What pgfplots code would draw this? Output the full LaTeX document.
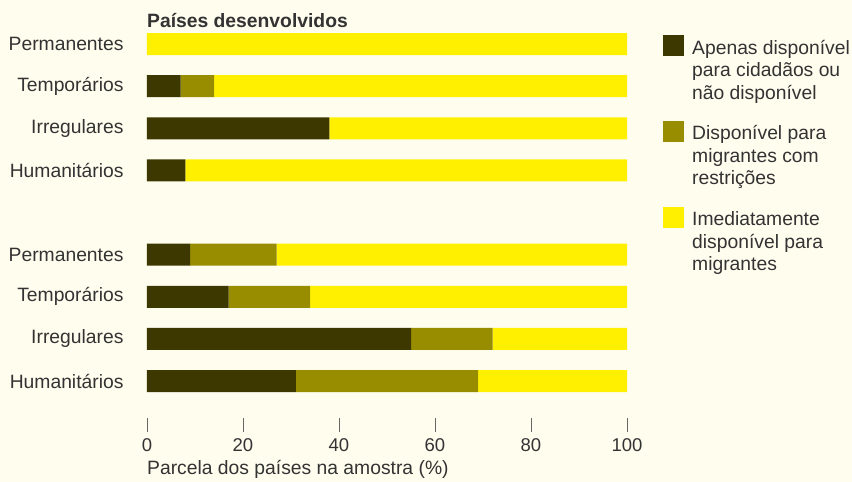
\documentclass[border=0pt]{standalone}
\usepackage{pgfplots}
\pgfplotsset{compat=1.18}
\usepackage{pgfplotstable}
\usepackage{fontspec}
\setmainfont{Liberation Sans}
\definecolor{bgcol}{HTML}{FFFDEE}
\definecolor{cdark}{HTML}{3D3800}
\definecolor{colive}{HTML}{988D00}
\definecolor{cyel}{HTML}{FFF000}
\definecolor{txt}{HTML}{333333}
\definecolor{tickc}{HTML}{666666}
\newcommand{\fs}{\fontsize{18.5bp}{22.5bp}\selectfont}
\newcommand{\fl}{\fontsize{19.3bp}{22.5bp}\selectfont}

% pos: 8..5 = Países desenvolvidos, 3..0 = second group
\pgfplotstableread{
pos a  b  c
8   0  0  100
7   7  7  86
6   38 0  62
5   8  0  92
3   9  18 73
2   17 17 66
1   55 17 28
0   31 38 31
}\data

\begin{document}
\begin{tikzpicture}
\path[use as bounding box, fill=bgcol] (-147bp,-64bp) rectangle ++(852bp,482bp);
\begin{axis}[
  scale only axis, width=480bp, height=416.1bp,
  xmin=0, xmax=100, ymin=-0.878, ymax=9,
  xbar stacked, bar width=22bp,
  axis lines*=left,
  axis line style={draw=none},
  xtick={0,20,...,100},
  tick align=outside,
  major tick length=14bp,
  xtick style={draw=tickc, line width=0.8bp},
  ytick={0,1,2,3,5,6,7,8},
  yticklabels={Humanitários,Irregulares,Temporários,Permanentes,Humanitários,Irregulares,Temporários,Permanentes},
  ytick style={draw=none},
  yticklabel style={xshift=-6bp, font=\fl},
  xticklabel style={inner sep=0pt, yshift=-6bp, font=\fs},
  tick label style={text=txt},
  /pgf/number format/assume math mode=true,
  xlabel={Parcela dos países na amostra (\%)},
  xlabel style={at={(rel axis cs:0,0)}, anchor=base west, yshift=-56bp, inner sep=0pt, font=\fl, text=txt},
  legend style={at={(1.06875,0.925)}, anchor=north west, draw=none, fill=none,
    font=\fl, text=txt, row sep=18.5bp, nodes={align=left}},
  legend cell align=left,
  legsq/.style={legend image code/.code={\fill[##1] (0bp,14bp) rectangle (21bp,35bp); \path (27bp,14bp);}},
]
\addplot[fill=cdark, draw=none, legsq] table[x=a, y=pos]{\data};
\addlegendentry{Apenas disponível\\para cidadãos ou\\não disponível}
\addplot[fill=colive, draw=none, legsq] table[x=b, y=pos]{\data};
\addlegendentry{Disponível para\\migrantes com\\restrições}
\addplot[fill=cyel, draw=none, legsq] table[x=c, y=pos]{\data};
\addlegendentry{Imediatamente\\disponível para\\migrantes}
\node[anchor=base west, font=\bfseries\fl, text=txt, inner sep=0pt] at (axis cs:0,8.40) {Países desenvolvidos};
\end{axis}
\end{tikzpicture}
\end{document}
